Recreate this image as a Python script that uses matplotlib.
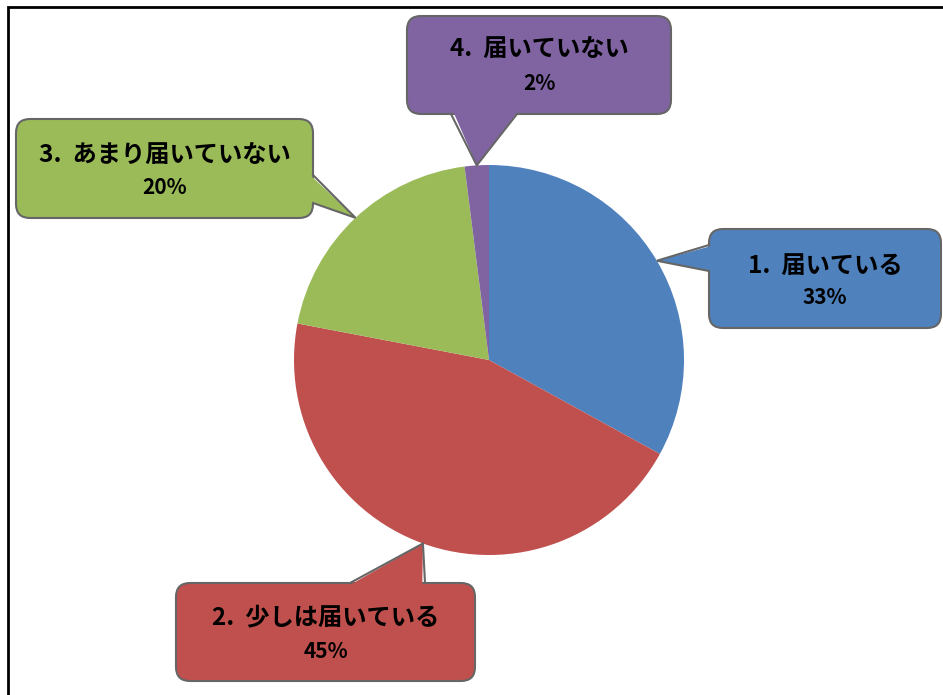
import numpy as np
import matplotlib.pyplot as plt
from matplotlib.patches import FancyBboxPatch, Polygon, Rectangle

plt.rcParams['font.family'] = ['Noto Sans CJK JP', 'DejaVu Sans']

labels = ['1.  届いている', '2.  少しは届いている', '3.  あまり届いていない', '4.  届いていない']
values = [33, 45, 20, 2]
colors = ['#4F81BD', '#C0504D', '#9BBB59', '#8064A2']

W, H = 943, 695

# callout boxes in pixel units (left, top, right, bottom), pointer base corners
boxes = [
    (709, 229, 941, 328),
    (176, 583, 475, 681),
    (16, 119, 313, 218),
    (407, 16, 671, 114),
]
bases = [
    ((709, 245), (709, 271)),
    ((350, 583), (425, 583)),
    ((313, 175), (313, 203)),
    ((451, 114), (517, 114)),
]
text_y = [(266, 298), (617, 651), (155, 188), (49, 84)]

fig = plt.figure(figsize=(W / 100, H / 100), dpi=100)
ax = fig.add_axes([0, 0, 1, 1])

cx, cy, r = 489, H - 360, 195
wedges, _ = ax.pie(values, colors=colors, startangle=90, counterclock=False,
                   center=(cx, cy), radius=r, frame=True,
                   wedgeprops=dict(linewidth=0))
ax.set_xlim(0, W)
ax.set_ylim(0, H)
ax.set_aspect('equal')
ax.axis('off')

edge = '#666666'
for w, (l, t, rr, b), (p1, p2), (ty1, ty2), lab, v, c in zip(
        wedges, boxes, bases, text_y, labels, values, colors):
    # tip sits on the rim at the middle of the slice
    mid = np.deg2rad((w.theta1 + w.theta2) / 2)
    tip = (cx + r * np.cos(mid), cy + r * np.sin(mid))
    box = FancyBboxPatch((l, H - b), rr - l, b - t,
                         boxstyle='round,pad=0,rounding_size=14',
                         fc=c, ec=edge, lw=1.5, zorder=3)
    ax.add_patch(box)
    q1 = (p1[0], H - p1[1])
    q2 = (p2[0], H - p2[1])
    # push base points a little into the box so the outline is hidden
    bx, by = (l + rr) / 2, H - (t + b) / 2
    def inward(q):
        d = np.array([bx - q[0], by - q[1]])
        d = d / np.linalg.norm(d) * 3
        return (q[0] + d[0], q[1] + d[1])
    ax.add_patch(Polygon([inward(q1), tip, inward(q2)], closed=True,
                         fc=c, ec='none', zorder=4))
    ax.plot([q1[0], tip[0], q2[0]], [q1[1], tip[1], q2[1]],
            color=edge, lw=1.5, zorder=5, solid_joinstyle='miter')
    xc = (l + rr) / 2
    ax.text(xc, H - ty1, lab, ha='center', va='center', fontsize=17.5,
            fontweight='bold', color='black', zorder=6)
    ax.text(xc, H - ty2, f'{v}%', ha='center', va='center', fontsize=15,
            fontweight='bold', color='black', zorder=6)

# outer frame
ax.add_patch(Rectangle((8, -20), W + 40, H - 7 + 20, fill=False,
                       ec='black', lw=2, zorder=7, clip_on=False))

fig.savefig('out.png', dpi=100)
